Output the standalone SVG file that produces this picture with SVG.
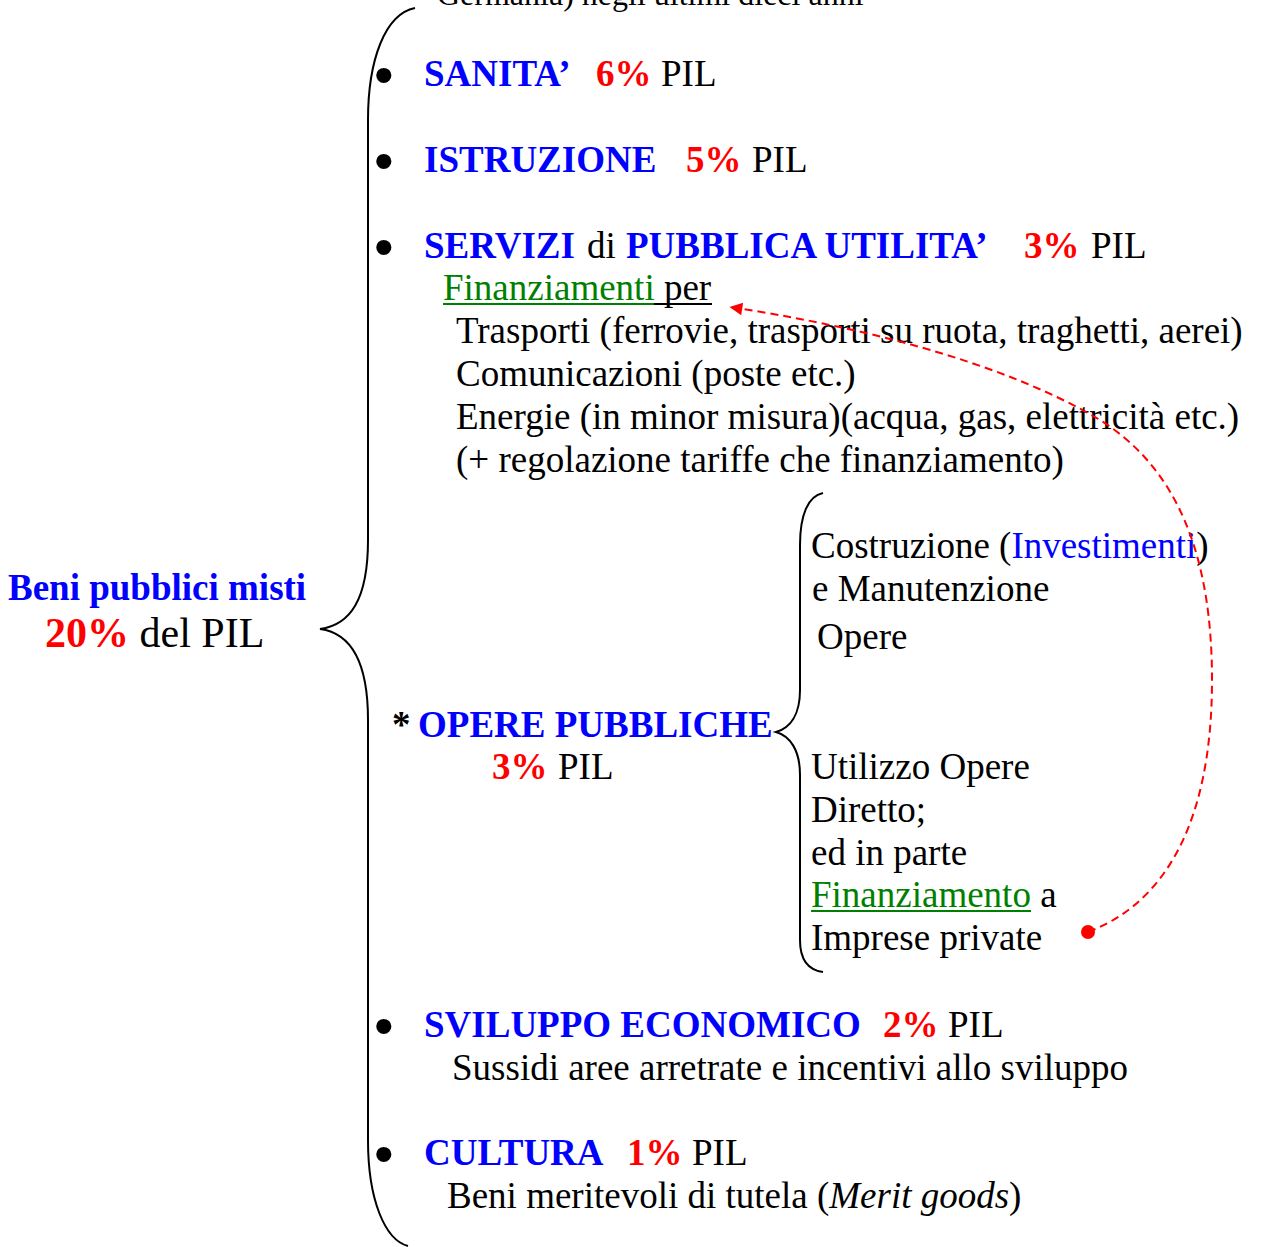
<svg xmlns="http://www.w3.org/2000/svg" width="1261" height="1247" viewBox="0 0 1261 1247">
<defs>
<style>
text{font-family:"Liberation Serif","Times New Roman",serif;font-size:37px;fill:#000}
.b{font-weight:bold}
.blue{fill:#0000ff}
.red{fill:#ff0000}
.green{fill:#008000}
.it{font-style:italic}
.bul{font-family:"Liberation Sans",Arial,sans-serif;font-size:56px}
.brace{fill:none;stroke:#000;stroke-width:2}
.dash{fill:none;stroke:#ff0000;stroke-width:2;stroke-dasharray:8 5}
.ul{stroke-width:2}
</style>
<marker id="ah" viewBox="0 0 10 10" refX="9" refY="5" markerWidth="8" markerHeight="8" markerUnits="userSpaceOnUse" orient="auto" overflow="visible">
<path d="M0,0 L10,5 L0,10 z" fill="#ff0000" transform="scale(1.6) translate(-4,-2)"/>
</marker>
</defs>
<rect width="1261" height="1247" fill="#fff"/>

<g id="top-line"><text x="437" y="5" style="font-size:32px">Germania) negli ultimi dieci anni</text></g>

<g id="root">
<text x="8" y="600" class="b blue">Beni pubblici misti</text>
<text x="45" y="647" style="font-size:42px"><tspan class="b red">20%</tspan> del PIL</text>
</g>

<g id="sanita">
<text x="374" y="94" class="bul">•</text>
<text y="86"><tspan x="424" class="b blue">SANITA’</tspan><tspan x="596" class="b red">6%</tspan><tspan x="661">PIL</tspan></text>
</g>

<g id="istruzione">
<text x="374" y="180" class="bul">•</text>
<text y="172"><tspan x="424" class="b blue">ISTRUZIONE</tspan><tspan x="686" class="b red">5%</tspan><tspan x="752">PIL</tspan></text>
</g>

<g id="servizi">
<text x="374" y="266" class="bul">•</text>
<text y="258"><tspan x="424" class="b blue">SERVIZI</tspan><tspan x="587">di</tspan><tspan x="626" class="b blue">PUBBLICA UTILITA’</tspan><tspan x="1024" class="b red">3%</tspan><tspan x="1091">PIL</tspan></text>
<text x="443" y="300"><tspan class="green">Finanziamenti</tspan> per</text>
<line x1="443" y1="304" x2="654" y2="304" stroke="#008000" class="ul"/>
<line x1="654" y1="304" x2="712" y2="304" stroke="#000" class="ul"/>
<text x="456" y="343">Trasporti (ferrovie, trasporti su ruota, traghetti, aerei)</text>
<text x="456" y="386">Comunicazioni (poste etc.)</text>
<text x="456" y="429">Energie (in minor misura)(acqua, gas, elettricità etc.)</text>
<text x="456" y="472">(+ regolazione tariffe che finanziamento)</text>
</g>

<g id="opere">
<text y="737"><tspan x="392" class="b">*</tspan><tspan x="418" class="b blue">OPERE PUBBLICHE</tspan></text>
<text y="779"><tspan x="492" class="b red">3%</tspan><tspan x="558">PIL</tspan></text>
</g>

<g id="costruzione">
<text x="811" y="558">Costruzione (<tspan class="blue">Investimenti</tspan>)</text>
<text x="812" y="601">e Manutenzione</text>
<text x="817" y="649">Opere</text>
</g>

<g id="utilizzo">
<text x="811" y="779">Utilizzo Opere</text>
<text x="811" y="822">Diretto;</text>
<text x="811" y="865">ed in parte</text>
<text x="811" y="907"><tspan class="green">Finanziamento</tspan> a</text>
<line x1="811" y1="911" x2="1031" y2="911" stroke="#008000" class="ul"/>
<text x="811" y="950">Imprese private</text>
</g>

<g id="sviluppo">
<text x="374" y="1045" class="bul">•</text>
<text y="1037"><tspan x="424" class="b blue">SVILUPPO ECONOMICO</tspan><tspan x="883" class="b red">2%</tspan><tspan x="948">PIL</tspan></text>
<text x="452" y="1080">Sussidi aree arretrate e incentivi allo sviluppo</text>
</g>

<g id="cultura">
<text x="374" y="1173" class="bul">•</text>
<text y="1165"><tspan x="424" class="b blue">CULTURA</tspan><tspan x="627" class="b red">1%</tspan><tspan x="692">PIL</tspan></text>
<text x="447" y="1208">Beni meritevoli di tutela (<tspan class="it">Merit goods</tspan>)</text>
</g>

<g id="connectors">
<path class="brace" d="M415,8 C385,14 368,60 368,120 L368,540 C368,600 350,625 320,629 C350,633 368,660 368,720 L368,1140 C368,1200 385,1240 408,1246"/>
<path class="brace" d="M823,493 C808,496 800,515 800,545 L800,690 C800,715 790,728 776,732 C790,736 800,750 800,775 L800,940 C800,960 808,970 823,972"/>
<path class="dash" marker-end="url(#ah)" d="M1088,932 C1160,905 1212,830 1212,680 C1212,560 1180,470 1100,420 C1000,360 850,325 730,307"/>
<circle cx="1088" cy="932" r="7" fill="#ff0000"/>
</g>
</svg>
